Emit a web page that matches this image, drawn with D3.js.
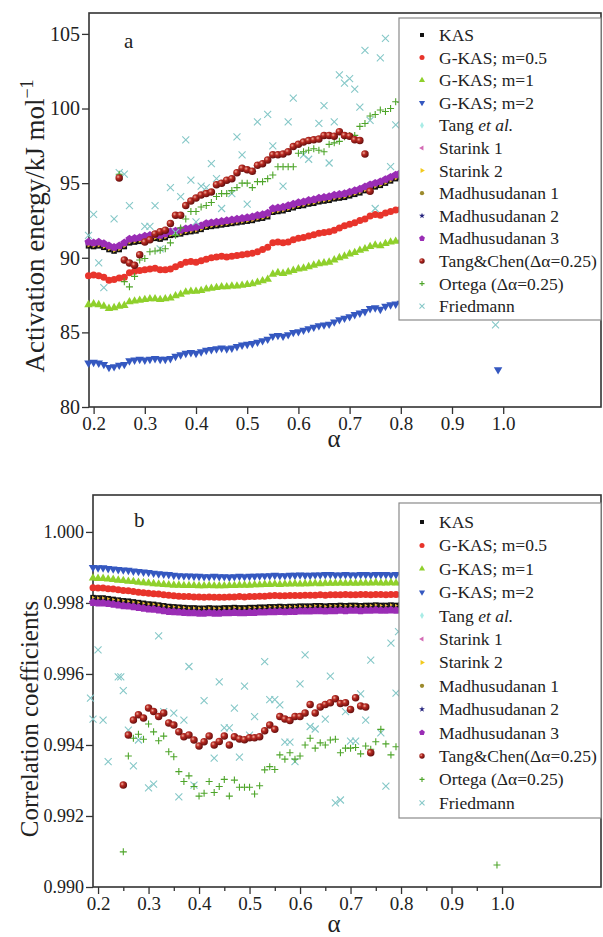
<!DOCTYPE html>
<html>
<head>
<meta charset="utf-8">
<script src="https://cdn.jsdelivr.net/npm/d3@7"></script>
<style>
  body { margin: 0; background: #fff; }
  svg text { font-family: "Liberation Serif", "Times New Roman", Times, "DejaVu Serif", serif; }
</style>
</head>
<body>
<div class="chart"></div>
<script>
// conversion grid shared by the dense series (alpha)
var alphaGrid = [
  0.19, 0.20, 0.21, 0.22, 0.23, 0.24, 0.25, 0.26, 0.27, 0.28,
  0.29, 0.30, 0.31, 0.32, 0.33, 0.34, 0.35, 0.36, 0.37, 0.38,
  0.39, 0.40, 0.41, 0.42, 0.43, 0.44, 0.45, 0.46, 0.47, 0.48,
  0.49, 0.50, 0.51, 0.52, 0.53, 0.54, 0.55, 0.56, 0.57, 0.58,
  0.59, 0.60, 0.61, 0.62, 0.63, 0.64, 0.65, 0.66, 0.67, 0.68,
  0.69, 0.70, 0.71, 0.72, 0.73, 0.74, 0.75, 0.76, 0.77, 0.78,
  0.79, 0.80
];
var xTicks = [0.2, 0.3, 0.4, 0.5, 0.6, 0.7, 0.8, 0.9, 1.0];
var xMinorTicks = [0.25, 0.35, 0.45, 0.55, 0.65, 0.75, 0.85, 0.95];

// ---- panel a : activation energy (kJ/mol) ----
var yTicksA = [80, 85, 90, 95, 100, 105];
var kasA = [
  90.80, 90.75, 90.80, 90.70, 90.55, 90.45, 90.55, 90.75, 91.00, 91.05,
  91.10, 91.20, 91.25, 91.30, 91.25, 91.35, 91.50, 91.55, 91.60, 91.70,
  91.75, 91.80, 91.90, 92.05, 92.10, 92.15, 92.20, 92.25, 92.30, 92.35,
  92.40, 92.45, 92.50, 92.60, 92.65, 92.75, 93.05, 93.10, 93.15, 93.25,
  93.35, 93.45, 93.50, 93.60, 93.65, 93.75, 93.80, 93.85, 93.95, 94.00,
  94.05, 94.15, 94.25, 94.35, 94.50, 94.65, 94.75, 94.85, 95.00, 95.15,
  95.30, 95.40
];
var madhu3A = [
  91.05, 91.00, 91.05, 90.95, 90.80, 90.70, 90.80, 91.00, 91.25, 91.30,
  91.35, 91.45, 91.50, 91.55, 91.50, 91.60, 91.75, 91.80, 91.85, 91.95,
  92.00, 92.05, 92.15, 92.30, 92.35, 92.40, 92.45, 92.50, 92.55, 92.60,
  92.65, 92.70, 92.75, 92.85, 92.90, 93.00, 93.30, 93.35, 93.40, 93.50,
  93.60, 93.70, 93.75, 93.85, 93.90, 94.00, 94.05, 94.10, 94.20, 94.25,
  94.30, 94.40, 94.50, 94.60, 94.75, 94.90, 95.00, 95.10, 95.25, 95.40,
  95.55, 95.70
];
var gkas05A = [
  88.80, 88.85, 88.80, 88.70, 88.50, 88.55, 88.65, 88.70, 89.00, 89.10,
  89.15, 89.20, 89.25, 89.30, 89.20, 89.20, 89.25, 89.40, 89.55, 89.70,
  89.75, 89.70, 89.80, 89.90, 90.00, 90.05, 90.10, 90.05, 90.10, 90.15,
  90.20, 90.25, 90.30, 90.40, 90.55, 90.70, 91.00, 91.05, 91.00, 91.05,
  91.20, 91.30, 91.35, 91.45, 91.55, 91.65, 91.70, 91.75, 91.85, 92.00,
  92.15, 92.25, 92.35, 92.50, 92.60, 92.80, 92.90, 92.85, 93.00, 93.10,
  93.20, 93.25
];
var gkas1A = [
  86.85, 86.90, 86.85, 86.75, 86.60, 86.65, 86.75, 86.80, 87.05, 87.10,
  87.15, 87.20, 87.25, 87.25, 87.20, 87.25, 87.30, 87.45, 87.55, 87.70,
  87.75, 87.75, 87.80, 87.90, 87.95, 88.00, 88.05, 88.05, 88.10, 88.10,
  88.15, 88.20, 88.25, 88.35, 88.45, 88.55, 88.90, 89.00, 88.95, 89.05,
  89.15, 89.25, 89.30, 89.40, 89.50, 89.60, 89.65, 89.70, 89.85, 90.00,
  90.10, 90.25, 90.35, 90.50, 90.60, 90.75, 90.85, 90.80, 90.95, 91.05,
  91.10, 91.15
];
var gkas2A = [
  82.95, 83.00, 82.95, 82.85, 82.65, 82.70, 82.80, 82.85, 83.10, 83.15,
  83.20, 83.15, 83.20, 83.25, 83.20, 83.20, 83.25, 83.40, 83.50, 83.60,
  83.65, 83.60, 83.70, 83.80, 83.85, 83.90, 83.95, 83.90, 83.95, 84.05,
  84.15, 84.20, 84.25, 84.35, 84.45, 84.55, 84.75, 84.80, 84.75, 84.85,
  85.00, 85.05, 85.15, 85.25, 85.35, 85.45, 85.50, 85.55, 85.70, 85.85,
  85.95, 86.05, 86.20, 86.30, 86.40, 86.60, 86.65, 86.55, 86.75, 86.85,
  86.90, 86.95
];
var gkas2ExtraA = [[0.99, 82.5]];
// Tang&Chen, alpha 0.25 ... 0.74
var tangChenA = [
  95.35, 89.85, 89.65, 89.50, 90.20, 91.05, 91.20, 91.60, 91.75, 91.85,
  92.30, 92.85, 92.85, 93.50, 93.80, 94.00, 94.20, 94.30, 94.40, 94.90,
  95.00, 95.20, 95.30, 95.70, 96.00, 95.90, 95.80, 96.20, 96.30, 96.55,
  96.90, 96.90, 96.95, 97.10, 97.45, 97.60, 97.75, 97.85, 97.90, 97.95,
  98.20, 98.20, 98.15, 98.45, 98.20, 98.15, 97.90, 97.85, 96.95, 94.45
];
// Ortega, alpha 0.25 ... 0.80
var ortegaA = [
  95.60, 88.40, 88.05, 88.75, 89.85, 89.95, 90.40, 90.45, 90.50, 90.60,
  91.00, 91.50, 92.00, 92.60, 93.10, 93.10, 93.40, 93.50, 93.70, 94.10,
  94.30, 94.30, 94.50, 94.70, 95.00, 95.00, 94.70, 95.10, 95.10, 95.30,
  95.55, 96.10, 96.10, 96.10, 96.10, 97.00, 97.10, 97.20, 97.30, 97.20,
  97.10, 97.60, 97.70, 97.80, 98.10, 98.20, 98.20, 98.80, 99.00, 99.50,
  99.60, 99.90, 99.80, 100.00, 100.45, 100.40
];
var friedmannA = [
  [0.19, 91.5], [0.20, 92.9], [0.21, 89.65], [0.22, 88.0], [0.24, 92.6],
  [0.25, 95.7], [0.26, 95.6], [0.27, 93.5], [0.30, 92.1], [0.31, 92.1],
  [0.32, 93.5], [0.33, 90.6], [0.35, 94.7], [0.36, 91.7], [0.37, 94.1],
  [0.38, 97.9], [0.39, 95.2], [0.40, 92.4], [0.41, 94.8], [0.42, 94.7],
  [0.43, 96.3], [0.44, 95.3], [0.45, 93.3], [0.47, 94.3], [0.48, 98.1],
  [0.49, 96.9], [0.50, 93.6], [0.52, 99.1], [0.54, 99.6], [0.55, 97.5],
  [0.57, 94.8], [0.58, 99.1], [0.59, 100.7], [0.61, 96.9], [0.62, 96.6],
  [0.64, 99.0], [0.65, 100.2], [0.66, 96.35], [0.67, 99.1], [0.68, 102.25],
  [0.69, 101.7], [0.70, 102.0], [0.71, 101.3], [0.72, 100.1], [0.73, 103.9],
  [0.74, 99.2], [0.75, 93.3], [0.76, 103.4], [0.77, 104.7], [0.78, 96.1],
  [0.79, 98.9], [0.985, 85.5]
];

// ---- panel b : correlation coefficients ----
var yTicksB = [0.990, 0.992, 0.994, 0.996, 0.998, 1.000];
var gkas2B = [
  0.99900, 0.99899, 0.99899, 0.99897, 0.99896, 0.99894, 0.99893, 0.99892, 0.99890, 0.99889,
  0.99887, 0.99886, 0.99884, 0.99882, 0.99881, 0.99880, 0.99878, 0.99877, 0.99876, 0.99876,
  0.99875, 0.99875, 0.99874, 0.99874, 0.99875, 0.99874, 0.99874, 0.99873, 0.99874, 0.99875,
  0.99874, 0.99875, 0.99875, 0.99876, 0.99876, 0.99877, 0.99878, 0.99877, 0.99877, 0.99878,
  0.99878, 0.99879, 0.99878, 0.99878, 0.99879, 0.99879, 0.99880, 0.99880, 0.99879, 0.99879,
  0.99880, 0.99879, 0.99879, 0.99880, 0.99880, 0.99879, 0.99880, 0.99880, 0.99880, 0.99879,
  0.99880, 0.99880
];
var gkas1B = [
  0.99870, 0.99869, 0.99869, 0.99867, 0.99866, 0.99864, 0.99863, 0.99861, 0.99860, 0.99858,
  0.99857, 0.99856, 0.99854, 0.99853, 0.99852, 0.99851, 0.99850, 0.99850, 0.99849, 0.99849,
  0.99849, 0.99848, 0.99848, 0.99849, 0.99848, 0.99848, 0.99848, 0.99849, 0.99849, 0.99850,
  0.99850, 0.99850, 0.99851, 0.99851, 0.99852, 0.99852, 0.99853, 0.99852, 0.99853, 0.99853,
  0.99854, 0.99853, 0.99854, 0.99854, 0.99855, 0.99854, 0.99855, 0.99855, 0.99855, 0.99856,
  0.99855, 0.99856, 0.99855, 0.99856, 0.99856, 0.99856, 0.99857, 0.99856, 0.99856, 0.99857,
  0.99856, 0.99857
];
var gkas05B = [
  0.99843, 0.99842, 0.99842, 0.99840, 0.99839, 0.99837, 0.99835, 0.99834, 0.99832, 0.99830,
  0.99829, 0.99827, 0.99826, 0.99825, 0.99823, 0.99822, 0.99820, 0.99819, 0.99818, 0.99818,
  0.99817, 0.99817, 0.99816, 0.99817, 0.99816, 0.99816, 0.99816, 0.99817, 0.99817, 0.99818,
  0.99817, 0.99818, 0.99818, 0.99819, 0.99819, 0.99820, 0.99821, 0.99820, 0.99820, 0.99821,
  0.99821, 0.99821, 0.99822, 0.99822, 0.99822, 0.99823, 0.99822, 0.99823, 0.99823, 0.99823,
  0.99824, 0.99823, 0.99823, 0.99824, 0.99824, 0.99823, 0.99824, 0.99824, 0.99823, 0.99824,
  0.99824, 0.99824
];
var kasB = [
  0.99815, 0.99814, 0.99814, 0.99812, 0.99810, 0.99808, 0.99806, 0.99805, 0.99803, 0.99801,
  0.99799, 0.99797, 0.99796, 0.99794, 0.99792, 0.99790, 0.99789, 0.99788, 0.99787, 0.99786,
  0.99786, 0.99785, 0.99785, 0.99786, 0.99785, 0.99785, 0.99786, 0.99786, 0.99787, 0.99786,
  0.99786, 0.99787, 0.99787, 0.99788, 0.99788, 0.99789, 0.99789, 0.99790, 0.99789, 0.99790,
  0.99790, 0.99791, 0.99791, 0.99791, 0.99792, 0.99792, 0.99791, 0.99792, 0.99792, 0.99793,
  0.99792, 0.99793, 0.99793, 0.99792, 0.99793, 0.99793, 0.99794, 0.99793, 0.99793, 0.99794,
  0.99793, 0.99794
];
var madhu3B = [
  0.99801, 0.99800, 0.99800, 0.99798, 0.99796, 0.99794, 0.99792, 0.99791, 0.99789, 0.99787,
  0.99785, 0.99783, 0.99782, 0.99780, 0.99778, 0.99776, 0.99775, 0.99774, 0.99773, 0.99772,
  0.99772, 0.99771, 0.99771, 0.99772, 0.99771, 0.99771, 0.99772, 0.99772, 0.99773, 0.99772,
  0.99772, 0.99773, 0.99773, 0.99774, 0.99774, 0.99775, 0.99775, 0.99776, 0.99775, 0.99776,
  0.99776, 0.99777, 0.99777, 0.99777, 0.99778, 0.99778, 0.99777, 0.99778, 0.99778, 0.99779,
  0.99778, 0.99779, 0.99779, 0.99778, 0.99779, 0.99779, 0.99780, 0.99779, 0.99779, 0.99780,
  0.99779, 0.99780
];
// Tang&Chen, alpha 0.25 ... 0.74
var tangChenB = [
  0.99287, 0.99428, 0.99470, 0.99485, 0.99476, 0.99504, 0.99494, 0.99480, 0.99490, 0.99462,
  0.99456, 0.99437, 0.99423, 0.99428, 0.99414, 0.99397, 0.99409, 0.99425, 0.99400, 0.99410,
  0.99425, 0.99400, 0.99423, 0.99417, 0.99415, 0.99420, 0.99420, 0.99423, 0.99440, 0.99456,
  0.99444, 0.99480, 0.99473, 0.99469, 0.99480, 0.99480, 0.99490, 0.99514, 0.99490, 0.99507,
  0.99514, 0.99519, 0.99530, 0.99517, 0.99519, 0.99500, 0.99533, 0.99510, 0.99507, 0.99378
];
// Ortega, alpha 0.25 ... 0.79
var ortegaB = [
  0.99099, 0.99369, 0.99419, 0.99430, 0.99416, 0.99459, 0.99437, 0.99412, 0.99425, 0.99381,
  0.99367, 0.99325, 0.99297, 0.99313, 0.99283, 0.99256, 0.99264, 0.99297, 0.99266, 0.99283,
  0.99303, 0.99256, 0.99301, 0.99281, 0.99281, 0.99281, 0.99262, 0.99285, 0.99330, 0.99339,
  0.99331, 0.99372, 0.99360, 0.99378, 0.99360, 0.99369, 0.99400, 0.99419, 0.99391, 0.99406,
  0.99400, 0.99414, 0.99416, 0.99378, 0.99391, 0.99391, 0.99393, 0.99375, 0.99397, 0.99388,
  0.99409, 0.99444, 0.99403, 0.99372, 0.99395
];
var ortegaExtraB = [[0.99, 0.99062]];
var friedmannB = [
  [0.185, 0.99532], [0.19, 0.99473], [0.20, 0.99668], [0.21, 0.99470], [0.22, 0.99353],
  [0.24, 0.99592], [0.245, 0.99592], [0.25, 0.99553], [0.26, 0.99442], [0.27, 0.99341],
  [0.28, 0.99414], [0.30, 0.99279], [0.31, 0.99290], [0.32, 0.99707], [0.33, 0.99494],
  [0.35, 0.99490], [0.36, 0.99254], [0.37, 0.99470], [0.38, 0.99621], [0.39, 0.99287],
  [0.41, 0.99525], [0.43, 0.99363], [0.44, 0.99578], [0.45, 0.99448], [0.46, 0.99448],
  [0.47, 0.99504], [0.48, 0.99366], [0.49, 0.99566], [0.50, 0.99428], [0.51, 0.99480],
  [0.53, 0.99635], [0.54, 0.99528], [0.55, 0.99528], [0.56, 0.99513], [0.57, 0.99408],
  [0.58, 0.99408], [0.59, 0.99353], [0.60, 0.99572], [0.61, 0.99654], [0.62, 0.99452],
  [0.63, 0.99445], [0.65, 0.99473], [0.66, 0.99594], [0.67, 0.99237], [0.68, 0.99245],
  [0.69, 0.99494], [0.70, 0.99411], [0.71, 0.99411], [0.72, 0.99544], [0.73, 0.99470],
  [0.74, 0.99639], [0.76, 0.99434], [0.77, 0.99284], [0.78, 0.99687], [0.79, 0.99546],
  [0.795, 0.99719]
];

// legend entries (same for both panels)
var legendNames = [
  "KAS", "G-KAS; m=0.5", "G-KAS; m=1", "G-KAS; m=2", "Tang et al.",
  "Starink 1", "Starink 2", "Madhusudanan 1", "Madhusudanan 2",
  "Madhusudanan 3", "Tang&Chen(\u0394\u03b1=0.25)", "Ortega (\u0394\u03b1=0.25)", "Friedmann"
];

// marker style of every method
var styles = {
  "KAS":            { shape: "square",   color: "#111111", size: 5.5 },
  "G-KAS; m=0.5":   { shape: "circle",   color: "#e8342b", size: 7 },
  "G-KAS; m=1":     { shape: "triUp",    color: "#8fd02c", size: 8.5 },
  "G-KAS; m=2":     { shape: "triDown",  color: "#3558c0", size: 8.5 },
  "Tang et al.":    { shape: "diamond",  color: "#a8ece6", size: 7 },
  "Starink 1":      { shape: "triLeft",  color: "#d46bb5", size: 7 },
  "Starink 2":      { shape: "triRight", color: "#f2c91c", size: 7 },
  "Madhusudanan 1": { shape: "circle",   color: "#9c8a2c", size: 6 },
  "Madhusudanan 2": { shape: "star",     color: "#25237e", size: 8 },
  "Madhusudanan 3": { shape: "pentagon", color: "#9a2db5", size: 8.5 },
  "Tang&Chen(\u0394\u03b1=0.25)": { shape: "ball", color: "#a31d1d", size: 7.5 },
  "Ortega (\u0394\u03b1=0.25)":   { shape: "plus", color: "#4ea52a", size: 7 },
  "Friedmann":      { shape: "cross",    color: "#86c8c8", size: 7 }
};

var serif = "Liberation Serif, Times New Roman, DejaVu Serif, serif";

var svgWidth = 603;
var svgHeight = 937;

var svg = d3.select(".chart")
  .append("svg")
  .attr("width", svgWidth)
  .attr("height", svgHeight)
  .attr("font-family", serif);

// shaded ball for Tang&Chen
var grad = svg.append("defs").append("radialGradient")
  .attr("id", "ball")
  .attr("cx", "35%").attr("cy", "35%").attr("r", "70%");
grad.append("stop").attr("offset", "0%").attr("stop-color", "#f0b0a0");
grad.append("stop").attr("offset", "35%").attr("stop-color", "#b82a22");
grad.append("stop").attr("offset", "100%").attr("stop-color", "#5e0c0c");

// path of one marker, centred on 0,0
function markerPath(shape, s) {
  var sym = d3.symbol();
  if (shape === "square") return sym.type(d3.symbolSquare).size(s * s)();
  if (shape === "circle" || shape === "ball") return sym.type(d3.symbolCircle).size(Math.PI * s * s / 4)();
  if (shape.indexOf("tri") === 0) return sym.type(d3.symbolTriangle).size(s * s * Math.sqrt(3) / 4)();
  if (shape === "diamond") return sym.type(d3.symbolDiamond).size(s * s / 2)();
  if (shape === "star") return sym.type(d3.symbolStar).size(s * s / 3)();
  if (shape === "pentagon") {
    var r = s / 2;
    var pts = [0, 1, 2, 3, 4].map(function (i) {
      var a = -Math.PI / 2 + i * 2 * Math.PI / 5;
      return [r * Math.cos(a), r * Math.sin(a)];
    });
    return "M" + pts.join("L") + "Z";
  }
  var h = s / 2;
  if (shape === "plus") return `M${-h},0H${h}M0,${-h}V${h}`;
  return `M${-h},${-h}L${h},${h}M${-h},${h}L${h},${-h}`;
}

function rotation(shape) {
  if (shape === "triDown") return " rotate(180)";
  if (shape === "triLeft") return " rotate(-90)";
  if (shape === "triRight") return " rotate(90)";
  return "";
}

function styleMarks(sel, st) {
  if (st.shape === "plus" || st.shape === "cross") {
    sel.attr("fill", "none").attr("stroke", st.color).attr("stroke-width", 1.1);
  } else if (st.shape === "ball") {
    sel.attr("fill", "url(#ball)");
  } else {
    sel.attr("fill", st.color);
  }
}

function drawMarks(g, x, y, points, st) {
  var d = markerPath(st.shape, st.size);
  var marks = g.append("g").selectAll("path")
    .data(points)
    .enter()
    .append("path")
    .attr("d", d)
    .attr("transform", p => `translate(${x(p[0])},${y(p[1])})${rotation(st.shape)}`);
  styleMarks(marks, st);
}

function drawPanel(p) {
  var g = svg.append("g");

  var x = d3.scaleLinear().domain(p.xDomain).range([p.left, p.right]);
  var y = d3.scaleLinear().domain(p.yDomain).range([p.bottom, p.top]);

  // x axis, major and minor ticks
  var xAxis = g.append("g")
    .attr("transform", `translate(0, ${p.bottom})`)
    .call(d3.axisBottom(x).tickValues(xTicks).tickFormat(d3.format(".1f"))
      .tickSize(7).tickSizeOuter(0).tickPadding(3));
  if (p.minor) {
    g.append("g")
      .attr("transform", `translate(0, ${p.bottom})`)
      .call(d3.axisBottom(x).tickValues(xMinorTicks).tickFormat("").tickSize(4).tickSizeOuter(0))
      .select(".domain").remove();
  }

  // y axis
  var yAxis = g.append("g")
    .attr("transform", `translate(${p.left}, 0)`)
    .call(d3.axisLeft(y).tickValues(p.yTicks).tickFormat(p.yFormat)
      .tickSize(7).tickSizeOuter(0).tickPadding(2));

  [xAxis, yAxis].forEach(function (ax) {
    ax.attr("font-family", serif);
    ax.select(".domain").remove();
    ax.selectAll("text").attr("fill", "#222");
  });
  xAxis.selectAll("text").attr("font-size", 19);
  yAxis.selectAll("text").attr("font-size", p.yTickFont);
  g.selectAll(".tick line").attr("stroke", "#333").attr("stroke-width", 1.3);

  // frame
  g.append("rect")
    .attr("x", p.left).attr("y", p.top)
    .attr("width", p.right - p.left).attr("height", p.bottom - p.top)
    .attr("fill", "none").attr("stroke", "#333").attr("stroke-width", 1.6);

  // data
  var plot = g.append("g");
  p.series.forEach(function (s) {
    drawMarks(plot, x, y, s.points, s.style);
  });

  // panel letter
  g.append("text")
    .attr("x", p.letterX).attr("y", p.letterY)
    .attr("font-size", 21).attr("fill", "#222")
    .text(p.letter);

  // axis titles
  var title = g.append("text")
    .attr("transform", `translate(${p.titleX}, ${p.titleY}) rotate(-90)`)
    .attr("text-anchor", "middle")
    .attr("font-size", p.titleFont).attr("fill", "#222")
    .text(p.yTitle);
  if (p.yTitleSup) {
    title.append("tspan").attr("dy", -11).attr("font-size", 18).text(p.yTitleSup);
  }
  g.append("text")
    .attr("x", 334).attr("y", p.alphaY)
    .attr("text-anchor", "middle")
    .attr("font-size", 25).attr("fill", "#222")
    .text("\u03b1");

  // legend
  var lg = g.append("g");
  lg.append("rect")
    .attr("x", p.legend.x).attr("y", p.legend.y)
    .attr("width", p.legend.w).attr("height", p.legend.h)
    .attr("fill", "#fff").attr("stroke", "#8a8a8a").attr("stroke-width", 1.2);
  legendNames.forEach(function (name, i) {
    var cy = p.legend.row0 + i * p.legend.step;
    var st = styles[name];
    var small = { shape: st.shape, color: st.color, size: st.size * 0.72 };
    var m = lg.append("path")
      .attr("d", markerPath(small.shape, small.size))
      .attr("transform", `translate(${p.legend.x + 23},${cy})${rotation(st.shape)}`);
    styleMarks(m, small);
    var t = lg.append("text")
      .attr("x", p.legend.x + 40).attr("y", cy + 6)
      .attr("font-size", 17.5).attr("fill", "#222");
    if (name === "Tang et al.") {
      t.text("Tang ");
      t.append("tspan").attr("font-style", "italic").text("et al.");
    } else {
      t.text(name);
    }
  });
}

function zipGrid(values, start) {
  return values.map((v, i) => [alphaGrid[start + i], v]);
}

// series shared by both panels: draw order from back to front
function buildSeries(d) {
  return [
    { points: zipGrid(d.gkas2, 0).concat(d.gkas2Extra), style: styles["G-KAS; m=2"] },
    { points: zipGrid(d.gkas1, 0), style: styles["G-KAS; m=1"] },
    { points: zipGrid(d.gkas05, 0), style: styles["G-KAS; m=0.5"] },
    { points: zipGrid(d.kas, 0), style: styles["KAS"] },
    { points: zipGrid(d.kas, 0), style: { shape: "triRight", color: "#e8b832", size: 3.5 } },
    { points: zipGrid(d.madhu3, 0), style: styles["Madhusudanan 3"] },
    { points: d.friedmann, style: styles["Friedmann"] },
    { points: zipGrid(d.ortega, 6).concat(d.ortegaExtra), style: styles["Ortega (\u0394\u03b1=0.25)"] },
    { points: zipGrid(d.tangChen, 6), style: styles["Tang&Chen(\u0394\u03b1=0.25)"] }
  ];
}

drawPanel({
  left: 89, right: 601, top: 13, bottom: 407,
  xDomain: [0.191, 1.191], yDomain: [80, 106.4],
  yTicks: yTicksA, yFormat: d3.format("d"), yTickFont: 20, minor: false,
  letter: "a", letterX: 124, letterY: 48,
  yTitle: "Activation energy/kJ mol", yTitleSup: "\u22121",
  titleX: 44, titleY: 226, titleFont: 27,
  alphaY: 447,
  legend: { x: 399, y: 18, w: 202, h: 302, row0: 35, step: 22.6 },
  series: buildSeries({
    gkas2: gkas2A, gkas2Extra: gkas2ExtraA, gkas1: gkas1A, gkas05: gkas05A,
    kas: kasA, madhu3: madhu3A, friedmann: friedmannA,
    ortega: ortegaA, ortegaExtra: [], tangChen: tangChenA
  })
});

drawPanel({
  left: 93, right: 601, top: 495, bottom: 887,
  xDomain: [0.19, 1.196], yDomain: [0.990, 1.00104],
  yTicks: yTicksB, yFormat: d3.format(".3f"), yTickFont: 18, minor: true,
  letter: "b", letterX: 134, letterY: 527,
  yTitle: "Correlation coefficients", yTitleSup: null,
  titleX: 38, titleY: 719, titleFont: 25,
  alphaY: 932,
  legend: { x: 399, y: 503, w: 202, h: 315, row0: 522, step: 23.4 },
  series: buildSeries({
    gkas2: gkas2B, gkas2Extra: [], gkas1: gkas1B, gkas05: gkas05B,
    kas: kasB, madhu3: madhu3B, friedmann: friedmannB,
    ortega: ortegaB, ortegaExtra: ortegaExtraB, tangChen: tangChenB
  })
});
</script>
</body>
</html>
